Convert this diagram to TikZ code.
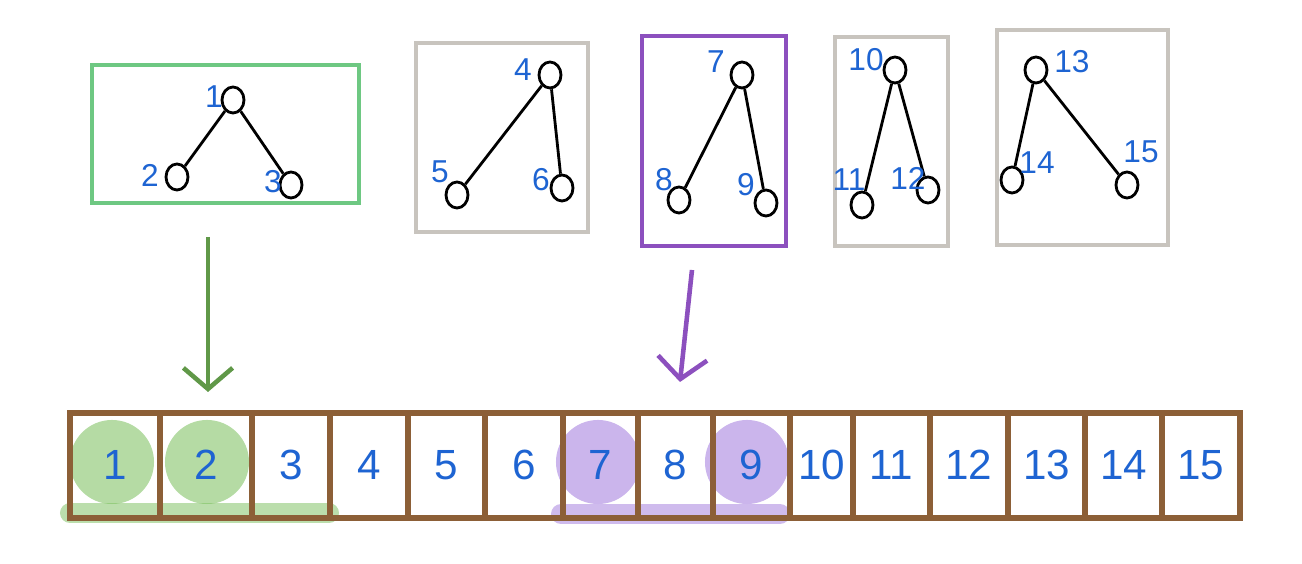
\documentclass[tikz,border=0pt]{standalone}
\usepackage{fontspec}
\setmainfont{Liberation Sans}
\usetikzlibrary{arrows.meta,shapes.geometric}
\definecolor{numblue}{RGB}{30,100,210}
\definecolor{boxgreen}{RGB}{110,200,130}
\definecolor{boxgray}{RGB}{200,196,190}
\definecolor{boxpurple}{RGB}{140,80,190}
\definecolor{cellbrown}{RGB}{140,95,55}
\definecolor{hlgreen}{RGB}{120,190,90}
\definecolor{hlpurple}{RGB}{160,120,220}
\tikzset{
  vert/.style={draw, ellipse, thick, minimum width=0.22cm, minimum height=0.26cm, inner sep=0pt},
  lab/.style={text=numblue, font=\small},
  cellnum/.style={text=numblue, font=\large},
  edge/.style={thick},
  frame/.style={line width=1pt},
  marker/.style={line width=0.2cm, line cap=round, opacity=0.5}
}
\begin{document}
\begin{tikzpicture}[x=0.01cm, y=-0.01cm]
    \useasboundingbox (0,0) rectangle (1302,564);

    % Frames around the five trees
    \draw[frame, boxgreen] (92,65) rectangle (359,203);
    \draw[frame, boxgray] (416,43) rectangle (588,232);
    \draw[frame, boxpurple, line width=1.3pt] (642,36) rectangle (786,246);
    \draw[frame, boxgray] (835,37) rectangle (948,246);
    \draw[frame, boxgray] (997,30) rectangle (1168,245);

    % Trees
    \foreach \rx/\ry/\ax/\ay/\bx/\by/\rl/\al/\bl/\rlx/\rly/\alx/\aly/\blx/\bly in {
      233/100/177/177/291/185/1/2/3/214/97/150/175/273/182,
      550/75/457/195/562/188/4/5/6/523/70/440/172/541/180,
      742/75/679/200/766/203/7/8/9/716/62/664/180/746/185,
      895/70/862/205/928/190/10/11/12/866/60/849/180/908/178,
      1036/70/1012/180/1127/185/13/14/15/1072/62/1037/163/1141/152} {
      \node[vert] (v\rl) at (\rx,\ry) {};
      \node[vert] (v\al) at (\ax,\ay) {};
      \node[vert] (v\bl) at (\bx,\by) {};
      \draw[edge] (v\rl) -- (v\al);
      \draw[edge] (v\rl) -- (v\bl);
      \node[lab] (l\rl) at (\rlx,\rly) {\rl};
      \node[lab] (l\al) at (\alx,\aly) {\al};
      \node[lab] (l\bl) at (\blx,\bly) {\bl};
    }

    % Highlights under the array
    \draw[marker, hlgreen] (70,513) -- (329,513);
    \draw[marker, hlpurple] (561,514) -- (780,514);
    \foreach \cx/\c in {112/hlgreen, 207/hlgreen, 598/hlpurple, 747/hlpurple}
      \fill[\c, opacity=0.55] (\cx,462) circle (0.42cm);

    % Array cells
    \foreach \xl/\xr [count=\i] in {70/160,160/252,252/330,330/408,408/485,485/563,
        563/638,638/713,713/790,790/853,853/930,930/1008,1008/1085,1085/1162,1162/1240} {
      \draw[cellbrown, line width=1.5pt] (\xl,413) rectangle (\xr,518);
      \node[cellnum] (c\i) at ({(\xl+\xr)/2},465) {\i};
    }

    % Arrows
    \coordinate (ga) at (208,237);
    \coordinate (gb) at (208,392);
    \coordinate (pa) at (692,270);
    \coordinate (pb) at (680,382);
    \draw[-{Straight Barb[length=6pt,width=14pt]}, hlgreen!80!black, line width=1.3pt] (ga) -- (gb);
    \draw[-{Straight Barb[length=6pt,width=14pt]}, boxpurple, line width=1.3pt] (pa) -- (pb);
\end{tikzpicture}
\end{document}
